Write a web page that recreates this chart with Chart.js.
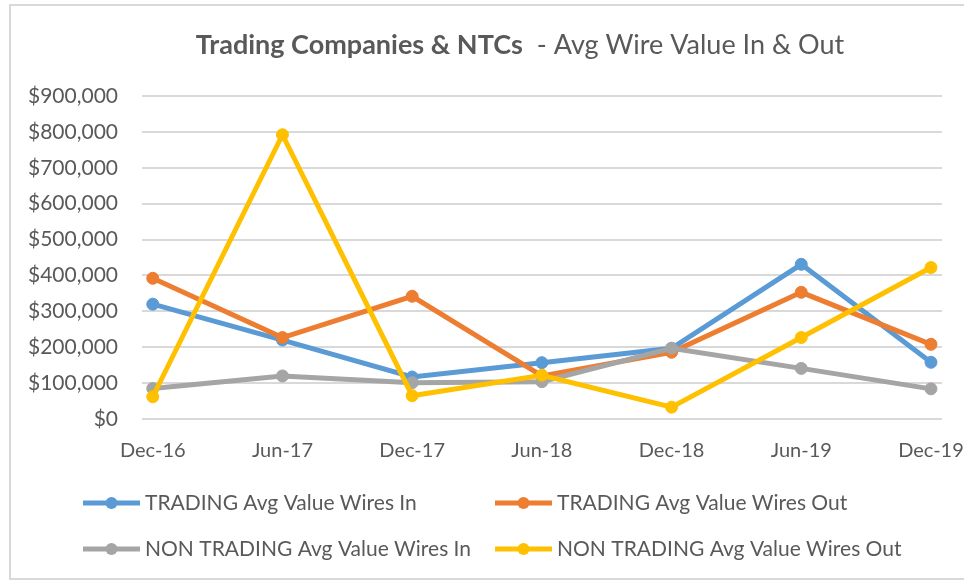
<!DOCTYPE html>
<html>
<head>
<meta charset="utf-8">
<script src="https://cdn.jsdelivr.net/npm/chart.js@4.4.0/dist/chart.umd.min.js"></script>
<style>
  html, body { margin: 0; padding: 0; background: #fff; overflow: hidden; }
  #wrap { position: relative; width: 1000px; height: 580px; }
  #frame { position: absolute; left: 9px; top: 4px; width: 1100px; height: 572px; border: 2px solid #d9d9d9; }
  #chart { position: absolute; left: 0; top: 0; }
</style>
</head>
<body>
<div id="wrap">
  <div id="frame"></div>
  <canvas id="chart" width="1000" height="580"></canvas>
</div>
<script>
// half-yearly periods on the x axis
const periods = ['Dec-16', 'Jun-17', 'Dec-17', 'Jun-18', 'Dec-18', 'Jun-19', 'Dec-19'];

// average wire values
const tradingIn = [320000, 220000, 117000, 157000, 197000, 431000, 158000];
const tradingOut = [392000, 227000, 342000, 120000, 186000, 353000, 208000];
const nonTradingIn = [85000, 120000, 101000, 104000, 197000, 141000, 84000];
const nonTradingOut = [62000, 792000, 65000, 122000, 33000, 227000, 422000];

const seriesNames = ['TRADING Avg Value Wires In', 'TRADING Avg Value Wires Out',
  'NON TRADING Avg Value Wires In', 'NON TRADING Avg Value Wires Out'];
const seriesColors = ['#5b9bd5', '#ed7d31', '#a5a5a5', '#ffc000'];

const yMax = 900000;
const yStep = 100000;

const textColor = '#595959';
const fontFamily = 'Lato, "Open Sans", sans-serif';

function toPoints(values) {
  return values.map((v, i) => ({ x: i, y: v }));
}

function makeDataset(idx, values) {
  return {
    label: seriesNames[idx],
    data: toPoints(values),
    borderColor: seriesColors[idx],
    backgroundColor: seriesColors[idx],
    pointBackgroundColor: seriesColors[idx],
    pointBorderColor: seriesColors[idx],
    borderWidth: 5,
    pointRadius: 6,
    pointHoverRadius: 6,
    pointBorderWidth: 1,
    tension: 0,
    order: 3 - idx   // later series drawn on top, like the original
  };
}

// title with a bold and a plain part
const titlePlugin = {
  id: 'splitTitle',
  afterDraw(chart) {
    const ctx = chart.ctx;
    const boldPart = 'Trading Companies & NTCs';
    const plainPart = '  - Avg Wire Value In & Out';
    ctx.save();
    ctx.textBaseline = 'middle';
    ctx.fillStyle = textColor;
    ctx.font = 'bold 27px ' + fontFamily;
    const w1 = ctx.measureText(boldPart).width;
    ctx.font = '27px ' + fontFamily;
    const w2 = ctx.measureText(plainPart).width;
    let x = 520 - (w1 + w2) / 2;
    ctx.font = 'bold 27px ' + fontFamily;
    ctx.fillText(boldPart, x, 45);
    ctx.font = '27px ' + fontFamily;
    ctx.fillText(plainPart, x + w1, 45);
    ctx.restore();
  }
};

// two-column legend under the plot
const legendPlugin = {
  id: 'gridLegend',
  afterDraw(chart) {
    const ctx = chart.ctx;
    const colX = [83, 495];
    const rowY = [503, 549];
    ctx.save();
    chart.data.datasets.forEach((ds, i) => {
      const x = colX[i % 2];
      const y = rowY[Math.floor(i / 2)];
      ctx.strokeStyle = ds.borderColor;
      ctx.lineWidth = 5;
      ctx.beginPath();
      ctx.moveTo(x, y);
      ctx.lineTo(x + 57, y);
      ctx.stroke();
      ctx.fillStyle = ds.borderColor;
      ctx.beginPath();
      ctx.arc(x + 28.5, y, 6, 0, Math.PI * 2);
      ctx.fill();
      ctx.fillStyle = textColor;
      ctx.font = '21px ' + fontFamily;
      ctx.textBaseline = 'middle';
      ctx.fillText(ds.label, x + 62, y);
    });
    ctx.restore();
  }
};

const chart = new Chart(document.getElementById('chart'), {
  type: 'line',
  data: {
    datasets: [
      makeDataset(0, tradingIn),
      makeDataset(1, tradingOut),
      makeDataset(2, nonTradingIn),
      makeDataset(3, nonTradingOut)
    ]
  },
  options: {
    responsive: false,
    animation: false,
    layout: { padding: { left: 0, right: 58, top: 96, bottom: 111 } },
    plugins: {
      legend: { display: false },
      tooltip: { enabled: false },
      title: { display: false }
    },
    scales: {
      x: {
        type: 'linear',
        min: -0.083,
        max: 6.085,
        grid: { display: false, drawTicks: false },
        border: { display: false },
        ticks: {
          stepSize: 1,
          includeBounds: false,
          autoSkip: false,
          maxRotation: 0,
          padding: 20,
          color: textColor,
          font: { family: fontFamily, size: 20 },
          callback: v => periods[v] ?? ''
        },
        afterFit: s => { s.height = 50; }
      },
      y: {
        min: 0,
        max: yMax,
        grid: { color: '#d9d9d9', lineWidth: 2, drawTicks: false },
        border: { display: false },
        ticks: {
          stepSize: yStep,
          padding: 24,
          color: textColor,
          font: { family: fontFamily, size: 21 },
          callback: v => '$' + v.toLocaleString('en-US')
        },
        afterFit: s => { s.width = 142; }
      }
    }
  },
  plugins: [titlePlugin, legendPlugin]
});
</script>
</body>
</html>
